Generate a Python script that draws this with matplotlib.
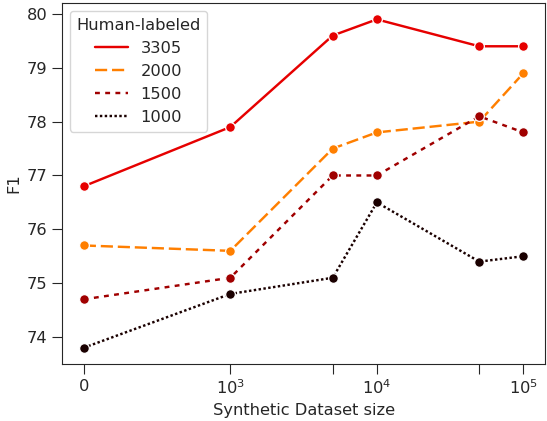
import numpy as np
import matplotlib
matplotlib.use("Agg")
import matplotlib.pyplot as plt
import seaborn as sns

# synthetic dataset sizes (x) and F1 per amount of human-labeled data
SIZES = [0, 1000, 5000, 10000, 50000, 100000]
HUMAN = ["3305", "2000", "1500", "1000"]
F1_3305 = [76.8, 77.9, 79.6, 79.9, 79.4, 79.4]
F1_2000 = [75.7, 75.6, 77.5, 77.8, 78.0, 78.9]
F1_1500 = [74.7, 75.1, 77.0, 77.0, 78.1, 77.8]
F1_1000 = [73.8, 74.8, 75.1, 76.5, 75.4, 75.5]

TICKS = [0, 1000, 5000, 10000, 50000, 100000]
TICK_LABELS = ["0", "$10^3$", "", "$10^4$", "", "$10^5$"]

COLORS = ["#e60000", "#ff7f00", "#a00000", "#1a0000"]
DASHES = [None, (5.0, 2.0), (2.0, 2.2), (1, 1)]
FS = 11.7

sns.set_style("ticks")
plt.rcParams["font.family"] = ["DejaVu Sans"]

fig = plt.figure(figsize=(5.47, 4.21), dpi=100)
ax = fig.add_axes([0.113, 0.135, 0.884, 0.858])

series = [F1_3305, F1_2000, F1_1500, F1_1000]
for name, vals, col, dash in zip(HUMAN, series, COLORS, DASHES):
    line, = ax.plot(SIZES, vals, color=col, lw=1.75, marker="o", markersize=7,
                    markeredgecolor="white", markeredgewidth=0.9, label=name)
    if dash is not None:
        line.set_dashes(dash)

ax.set_xscale("symlog", linthresh=1000, linscale=0.9)
ax.set_xticks(TICKS)
ax.set_xticklabels(TICK_LABELS)
ax.xaxis.set_minor_locator(matplotlib.ticker.NullLocator())
ax.set_yticks([74, 75, 76, 77, 78, 79, 80])

ax.set_xlabel("Synthetic Dataset size", fontsize=FS)
ax.set_ylabel("F1", fontsize=FS)
ax.tick_params(labelsize=FS, length=7)

leg = ax.legend(title="Human-labeled", loc="upper left", fontsize=FS,
                title_fontsize=FS)
for h in leg.legend_handles:
    h.set_marker("")

fig.savefig("out.png", dpi=100)
